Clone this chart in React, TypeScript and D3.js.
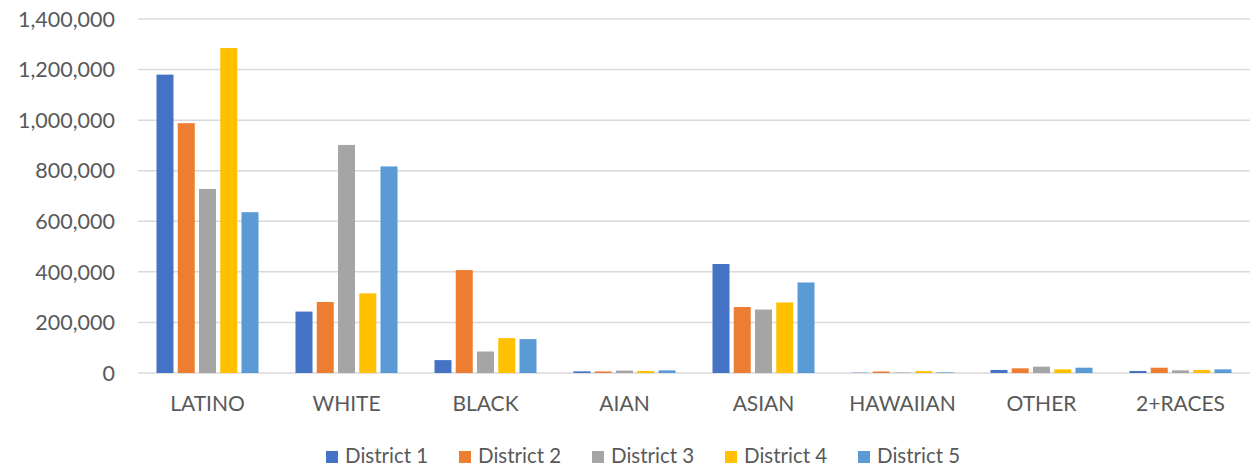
import React, { useEffect, useRef } from "react";
import * as d3 from "d3";

const categories = ["LATINO", "WHITE", "BLACK", "AIAN", "ASIAN", "HAWAIIAN", "OTHER", "2+RACES"];
const districts = ["District 1", "District 2", "District 3", "District 4", "District 5"];
const colors = ["#4472c4", "#ed7d31", "#a5a5a5", "#ffc000", "#5b9bd5"];

// values per district, in category order
const district1 = [1180000, 243000, 51000, 6500, 431000, 1000, 12000, 8000];
const district2 = [988000, 281000, 407000, 6000, 261000, 6000, 18500, 21000];
const district3 = [728000, 902000, 85000, 9500, 251000, 2000, 25000, 10500];
const district4 = [1285000, 315000, 138000, 8000, 279000, 7500, 14500, 12000];
const district5 = [636000, 817000, 134000, 10500, 358000, 2500, 21000, 14500];

const yTicks = [0, 200000, 400000, 600000, 800000, 1000000, 1200000, 1400000];

const W = 1258;
const H = 468;

const App = () => {
  const ref = useRef<SVGSVGElement>(null);

  useEffect(() => {
    const svg = d3.select(ref.current);
    svg.selectAll("*").remove();

    const series = [district1, district2, district3, district4, district5];
    const font = "Lato, 'Open Sans', sans-serif";
    const textColor = "#595959";

    const x = d3.scaleBand().domain(categories).range([138, 1250]);
    const xInner = d3
      .scaleBand()
      .domain(districts)
      .range([0, x.bandwidth()])
      .paddingInner(0.2)
      .paddingOuter(0.87);
    const y = d3.scaleLinear().domain([0, 1400000]).range([373, 19]);

    // gridlines
    svg
      .append("g")
      .selectAll("line")
      .data(yTicks)
      .join("line")
      .attr("x1", 138)
      .attr("x2", 1250)
      .attr("y1", (d) => y(d))
      .attr("y2", (d) => y(d))
      .attr("stroke", "#d9d9d9")
      .attr("stroke-width", 1.5);

    // y tick labels
    svg
      .append("g")
      .selectAll("text")
      .data(yTicks)
      .join("text")
      .attr("x", 115)
      .attr("y", (d) => y(d))
      .attr("dy", "0.36em")
      .attr("text-anchor", "end")
      .attr("font-family", font)
      .attr("font-size", 21.5)
      .attr("fill", textColor)
      .text((d) => d3.format(",")(d));

    // bars
    series.forEach((vals, i) => {
      svg
        .append("g")
        .selectAll("rect")
        .data(vals)
        .join("rect")
        .attr("x", (_, j) => x(categories[j])! + xInner(districts[i])!)
        .attr("y", (d) => y(d))
        .attr("width", xInner.bandwidth())
        .attr("height", (d) => y(0) - y(d))
        .attr("fill", colors[i]);
    });

    // category labels
    svg
      .append("g")
      .selectAll("text")
      .data(categories)
      .join("text")
      .attr("x", (d) => x(d)! + x.bandwidth() / 2)
      .attr("y", 411)
      .attr("text-anchor", "middle")
      .attr("font-family", font)
      .attr("font-size", 21)
      .attr("fill", textColor)
      .text((d) => d);

    // legend
    const legend = svg
      .append("g")
      .selectAll("g")
      .data(districts)
      .join("g")
      .attr("transform", (_, i) => `translate(${326 + i * 133}, 456)`);
    legend
      .append("rect")
      .attr("x", 0)
      .attr("y", -5)
      .attr("width", 12)
      .attr("height", 12)
      .attr("fill", (_, i) => colors[i]);
    legend
      .append("text")
      .attr("x", 19)
      .attr("y", 0)
      .attr("dy", "0.36em")
      .attr("font-family", font)
      .attr("font-size", 20.5)
      .attr("fill", textColor)
      .text((d) => d);
  }, []);

  return (
    <svg
      ref={ref}
      width={W}
      height={H}
      style={{ position: "absolute", left: 0, top: 0, background: "#fff" }}
    />
  );
};

export default App;
